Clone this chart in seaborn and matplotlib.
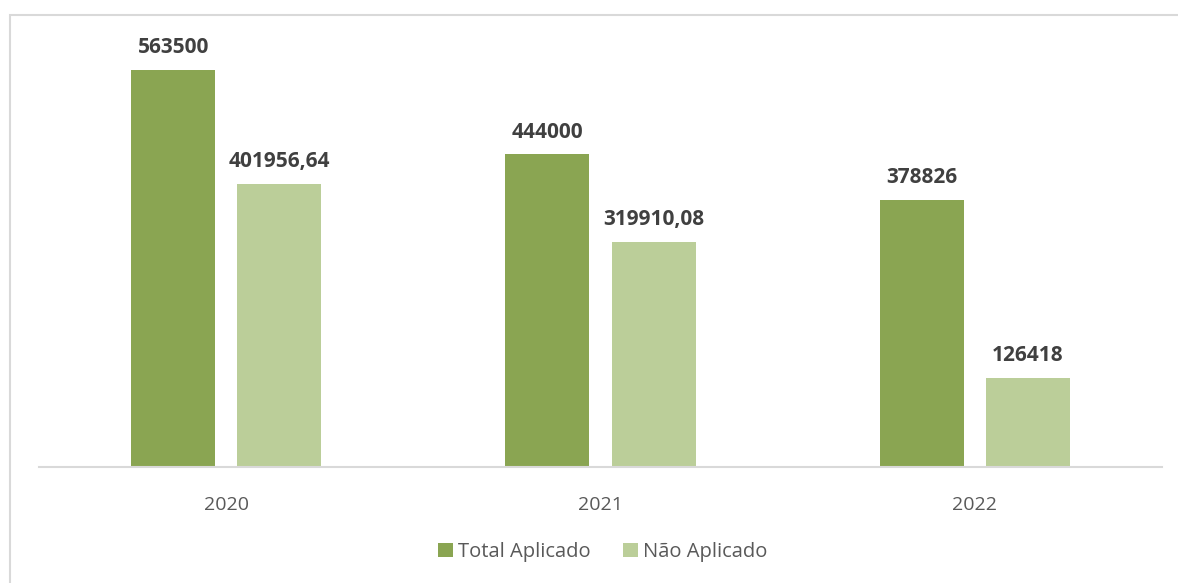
import matplotlib
matplotlib.use("Agg")
import matplotlib.pyplot as plt
import seaborn as sns
import pandas as pd
from matplotlib.patches import Rectangle

years = ["2020", "2021", "2022"]
series = ["Total Aplicado", "Não Aplicado"]
total_aplicado = [563500, 444000, 378826]
nao_aplicado = [401956.64, 319910.08, 126418]
colors = ["#8AA552", "#BBCE99"]

df = pd.DataFrame({
    "Ano": years * 2,
    "Serie": [series[0]] * 3 + [series[1]] * 3,
    "Valor": total_aplicado + nao_aplicado,
})

sns.set_theme(style="white")
plt.rcParams["font.family"] = ["Open Sans", "DejaVu Sans"]

fig = plt.figure(figsize=(11.78, 5.83), dpi=100)
ax = fig.add_axes([39/1178, (583-467)/583, (1161-38)/1178, (467-44.3)/583])

sns.barplot(data=df, x="Ano", y="Valor", hue="Serie", order=years,
            hue_order=series, palette=colors, width=0.5666, gap=0.2075,
            saturation=1, linewidth=0, ax=ax, legend=True)

ax.set_ylim(0, 600000)
ax.set_xlim(-0.5, 2.5)
ax.set_xlabel("")
ax.set_ylabel("")
ax.set_yticks([])
for s in ["top", "right", "left"]:
    ax.spines[s].set_visible(False)
ax.spines["bottom"].set_color("#D9D9D9")
ax.spines["bottom"].set_linewidth(1.5)
ax.tick_params(axis="x", length=0, pad=21, labelsize=14, labelcolor="#595959")


def fmt(v):
    if float(v).is_integer():
        return str(int(v))
    return f"{v:.2f}".replace(".", ",")


for cont in ax.containers:
    for bar, val in zip(cont, cont.datavalues):
        ax.annotate(fmt(val), (bar.get_x() + bar.get_width() / 2, bar.get_height()),
                    xytext=(0, 12), textcoords="offset points", ha="center",
                    va="baseline", fontsize=15, fontweight="bold", color="#404040")

leg = ax.legend(loc="center", bbox_to_anchor=(603/1178, 1 - 552/583),
                bbox_transform=fig.transFigure, ncol=2, frameon=False,
                fontsize=14.5, handlelength=0.75, handleheight=0.75,
                handletextpad=0.25, columnspacing=1.6)
for t in leg.get_texts():
    t.set_color("#595959")

fig.patches.append(Rectangle((10/1178, -0.1), 1.2, 1 - 15/583 + 0.1,
                             transform=fig.transFigure, fill=False,
                             edgecolor="#D9D9D9", linewidth=1.5))

fig.savefig("out.png", dpi=100)
